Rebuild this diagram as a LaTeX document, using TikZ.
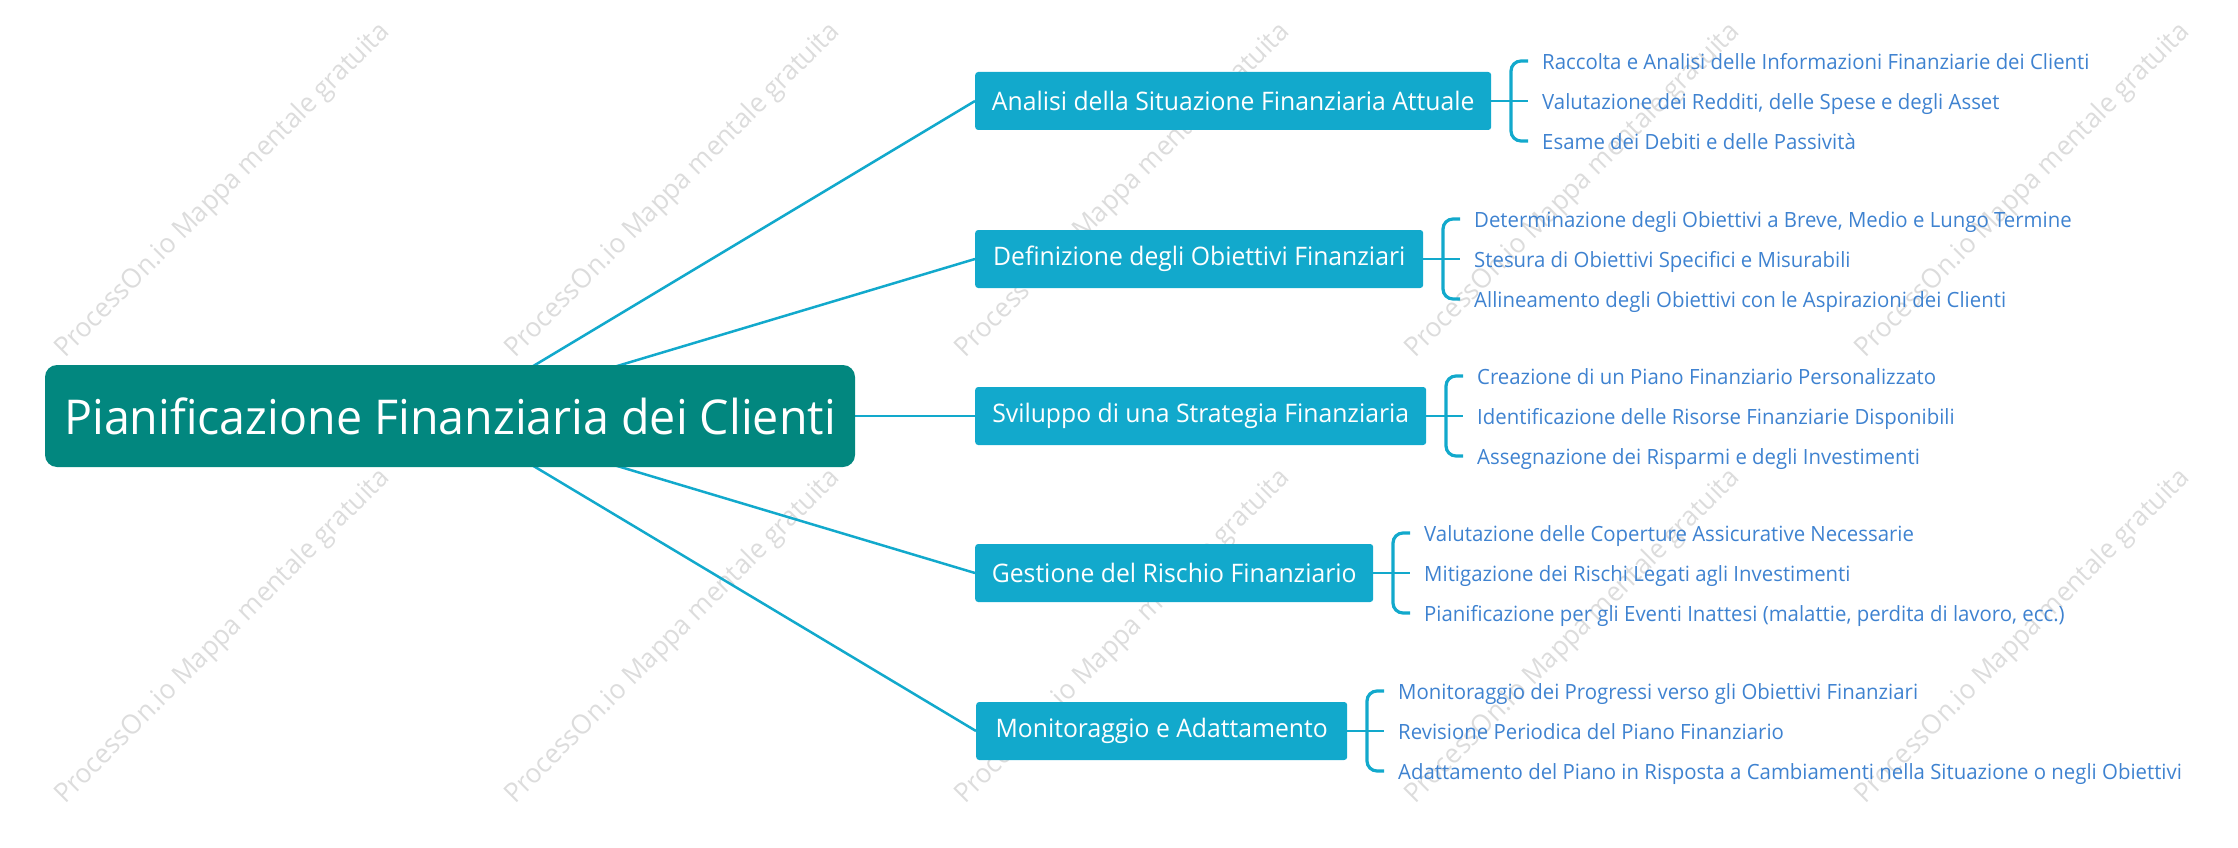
\documentclass[tikz,border=0pt]{standalone}
\usepackage{fontspec}
\setmainfont{Open Sans}[FakeStretch=0.97]
\usetikzlibrary{backgrounds}
\definecolor{rootc}{HTML}{02877F}
\definecolor{branchc}{HTML}{12A9CC}
\definecolor{leafc}{HTML}{3E82D0}
\definecolor{wmc}{HTML}{DCDCDC}
\begin{document}
\begin{tikzpicture}[x=1pt,y=-1pt,
  rootnode/.style={fill=rootc, rounded corners=12pt, text=white, font=\fontsize{48}{56}\selectfont, minimum width=810pt, minimum height=102pt, inner sep=0pt},
  branch/.style={fill=branchc, rounded corners=3pt, text=white, font=\fontsize{25.5}{30}\selectfont, minimum height=58pt, inner sep=0pt, anchor=west},
  leaf/.style={text=leafc, font=\fontsize{21}{25}\selectfont, anchor=west, inner sep=0pt, text height=17pt, text depth=0pt},
  conn/.style={draw=branchc, line width=2.5pt},
  brk/.style={draw=branchc, line width=3.2pt, rounded corners=10pt},
  wm/.style={text=wmc, font=\fontsize{27}{30}\selectfont, rotate=45, inner sep=0pt}]
\useasboundingbox (0,0) rectangle (2238,848);

% root and branches
\node[rootnode] (root) at (450,416) {Pianificazione Finanziaria dei Clienti};
\node[branch, minimum width=516pt] (b1) at (975,101) {Analisi della Situazione Finanziaria Attuale};
\node[branch, minimum width=448pt] (b2) at (975,259) {Definizione degli Obiettivi Finanziari};
\node[branch, minimum width=451pt] (b3) at (975,416) {Sviluppo di una Strategia Finanziaria};
\node[branch, minimum width=398pt] (b4) at (975,573) {Gestione del Rischio Finanziario};
\node[branch, minimum width=371pt] (b5) at (976,731) {Monitoraggio e Adattamento};

% leaves
\node[leaf] (l11) at (1542,61) {Raccolta e Analisi delle Informazioni Finanziarie dei Clienti};
\node[leaf] (l12) at (1542,101) {Valutazione dei Redditi, delle Spese e degli Asset};
\node[leaf] (l13) at (1542,141) {Esame dei Debiti e delle Passività};

\node[leaf] (l21) at (1474,219) {Determinazione degli Obiettivi a Breve, Medio e Lungo Termine};
\node[leaf] (l22) at (1474,259) {Stesura di Obiettivi Specifici e Misurabili};
\node[leaf] (l23) at (1474,299) {Allineamento degli Obiettivi con le Aspirazioni dei Clienti};

\node[leaf] (l31) at (1477,376) {Creazione di un Piano Finanziario Personalizzato};
\node[leaf] (l32) at (1477,416) {Identificazione delle Risorse Finanziarie Disponibili};
\node[leaf] (l33) at (1477,456) {Assegnazione dei Risparmi e degli Investimenti};

\node[leaf] (l41) at (1424,533) {Valutazione delle Coperture Assicurative Necessarie};
\node[leaf] (l42) at (1424,573) {Mitigazione dei Rischi Legati agli Investimenti};
\node[leaf] (l43) at (1424,613) {Pianificazione per gli Eventi Inattesi (malattie, perdita di lavoro, ecc.)};

\node[leaf] (l51) at (1398,691) {Monitoraggio dei Progressi verso gli Obiettivi Finanziari};
\node[leaf] (l52) at (1398,731) {Revisione Periodica del Piano Finanziario};
\node[leaf] (l53) at (1398,771) {Adattamento del Piano in Risposta a Cambiamenti nella Situazione o negli Obiettivi};

\begin{scope}[on background layer]
  % watermarks
  \foreach \i in {0,...,4} {
    \foreach \j in {0,1} {
      \node[wm] (wm\i\j) at (223+450*\i,191+446*\j) {ProcessOn.io Mappa mentale gratuita};
    }
  }
  % root connectors
  \draw[conn] (root.center) -- (b1.west);
  \draw[conn] (root.center) -- (b2.west);
  \draw[conn] (root.center) -- (b3.west);
  \draw[conn] (root.center) -- (b4.west);
  \draw[conn] (root.center) -- (b5.west);
\end{scope}

% brackets
\foreach \b in {1,...,5} {
  \draw[conn] (b\b.east) -- ([xshift=-14pt]b\b.east -| l\b2.west);
  \draw[brk] ([xshift=-14pt]l\b1.west) -- ([xshift=-31pt]l\b1.west) -- ([xshift=-31pt]l\b3.west) -- ([xshift=-14pt]l\b3.west);
}
\end{tikzpicture}
\end{document}
